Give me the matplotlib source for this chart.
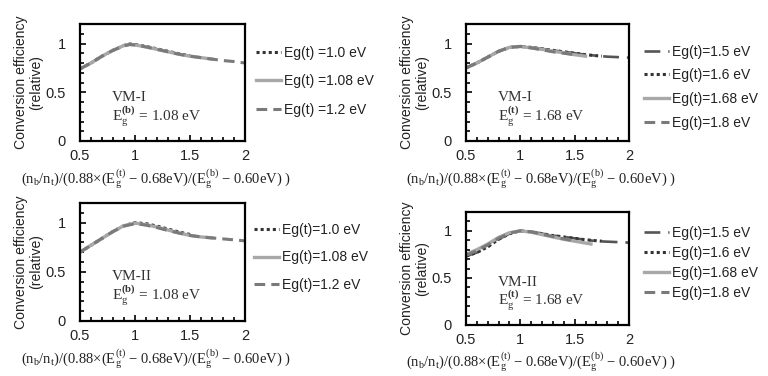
import matplotlib
matplotlib.use("Agg")
import matplotlib.pyplot as plt
from matplotlib.ticker import MultipleLocator

plt.rcParams['font.family'] = ['Liberation Sans', 'DejaVu Sans']
plt.rcParams['mathtext.fontset'] = 'custom'
plt.rcParams['mathtext.rm'] = 'Liberation Serif'
plt.rcParams['mathtext.it'] = 'Liberation Serif:italic'
plt.rcParams['mathtext.bf'] = 'Liberation Serif:bold'

# ---------------- data ----------------
x_ticks = [0.5, 1, 1.5, 2]
y_ticks = [0, 0.5, 1]

# Top-left: VM-I, Eg(b)=1.08 eV
tl_labels = ["Eg(t) =1.0 eV", "Eg(t) =1.08 eV", "Eg(t) =1.2 eV"]
tl_x1 = [0.5, 0.6, 0.7, 0.8, 0.9, 0.95, 1.0, 1.1, 1.2, 1.3, 1.4, 1.5]
tl_y1 = [0.74, 0.80, 0.87, 0.93, 0.98, 0.995, 0.99, 0.97, 0.945, 0.92, 0.895, 0.875]
tl_x2 = [0.5, 0.6, 0.7, 0.8, 0.9, 0.95, 1.0, 1.1, 1.2, 1.3, 1.4, 1.5, 1.6, 1.7]
tl_y2 = [0.74, 0.80, 0.87, 0.93, 0.98, 0.99, 0.985, 0.965, 0.94, 0.915, 0.89, 0.87, 0.855, 0.84]
tl_x3 = [0.5, 0.6, 0.7, 0.8, 0.9, 0.95, 1.0, 1.1, 1.2, 1.3, 1.4, 1.5, 1.6, 1.7, 1.8, 1.9, 2.0]
tl_y3 = [0.74, 0.80, 0.87, 0.93, 0.975, 0.99, 0.985, 0.965, 0.94, 0.915, 0.89, 0.87, 0.855, 0.84, 0.825, 0.815, 0.80]

# Top-right: VM-I, Eg(t)=1.68 eV
tr_labels = ["Eg(t)=1.5 eV", "Eg(t)=1.6 eV", "Eg(t)=1.68 eV", "Eg(t)=1.8 eV"]
tr_x1 = [0.5, 0.6, 0.7, 0.8, 0.9, 1.0, 1.1, 1.2, 1.3, 1.4, 1.5, 1.6, 1.7, 1.8, 1.9, 2.0]
tr_y1 = [0.75, 0.80, 0.86, 0.92, 0.96, 0.97, 0.96, 0.945, 0.93, 0.915, 0.90, 0.885, 0.875, 0.865, 0.86, 0.855]
tr_x2 = [0.5, 0.6, 0.7, 0.8, 0.9, 1.0, 1.1, 1.2, 1.3, 1.4, 1.5, 1.6, 1.7, 1.75]
tr_y2 = [0.75, 0.80, 0.86, 0.92, 0.96, 0.97, 0.96, 0.945, 0.93, 0.915, 0.90, 0.885, 0.875, 0.87]
tr_x3 = [0.5, 0.6, 0.7, 0.8, 0.9, 1.0, 1.1, 1.2, 1.3, 1.4, 1.5, 1.6]
tr_y3 = [0.75, 0.80, 0.86, 0.92, 0.96, 0.97, 0.955, 0.94, 0.92, 0.905, 0.885, 0.87]
tr_x4 = [0.5, 0.6, 0.7, 0.8, 0.9, 1.0, 1.1, 1.2, 1.3, 1.4, 1.5]
tr_y4 = [0.75, 0.80, 0.86, 0.92, 0.96, 0.97, 0.955, 0.935, 0.915, 0.90, 0.885]

# Bottom-left: VM-II, Eg(b)=1.08 eV
bl_labels = ["Eg(t)=1.0 eV", "Eg(t)=1.08 eV", "Eg(t)=1.2 eV"]
bl_x1 = [0.5, 0.6, 0.7, 0.8, 0.9, 1.0, 1.1, 1.2, 1.3, 1.4, 1.5]
bl_y1 = [0.70, 0.77, 0.84, 0.91, 0.97, 1.0, 0.99, 0.965, 0.935, 0.905, 0.88]
bl_x2 = [0.5, 0.6, 0.7, 0.8, 0.9, 1.0, 1.1, 1.2, 1.3, 1.4, 1.5, 1.6, 1.7]
bl_y2 = [0.70, 0.77, 0.84, 0.91, 0.97, 0.995, 0.98, 0.955, 0.925, 0.895, 0.87, 0.855, 0.845]
bl_x3 = [0.5, 0.6, 0.7, 0.8, 0.9, 1.0, 1.1, 1.2, 1.3, 1.4, 1.5, 1.6, 1.7, 1.8, 1.9, 2.0]
bl_y3 = [0.70, 0.77, 0.84, 0.91, 0.965, 0.99, 0.975, 0.95, 0.92, 0.895, 0.87, 0.855, 0.845, 0.835, 0.825, 0.815]

# Bottom-right: VM-II, Eg(t)=1.68 eV
br_labels = ["Eg(t)=1.5 eV", "Eg(t)=1.6 eV", "Eg(t)=1.68 eV", "Eg(t)=1.8 eV"]
br_x1 = [0.5, 0.6, 0.7, 0.8, 0.9, 1.0, 1.1, 1.2, 1.3, 1.4, 1.5, 1.6, 1.7, 1.8, 1.9, 2.0]
br_y1 = [0.73, 0.77, 0.83, 0.91, 0.97, 1.0, 0.99, 0.97, 0.95, 0.935, 0.92, 0.905, 0.89, 0.885, 0.88, 0.875]
br_x2 = [0.5, 0.6, 0.7, 0.8, 0.9, 1.0, 1.1, 1.2, 1.3, 1.4, 1.5, 1.6, 1.7, 1.75]
br_y2 = [0.73, 0.77, 0.83, 0.91, 0.97, 1.0, 0.99, 0.97, 0.95, 0.935, 0.92, 0.905, 0.895, 0.89]
br_x3 = [0.5, 0.6, 0.7, 0.8, 0.9, 1.0, 1.1, 1.2, 1.3, 1.4, 1.5, 1.6, 1.65]
br_y3 = [0.75, 0.80, 0.86, 0.93, 0.98, 1.0, 0.985, 0.96, 0.935, 0.91, 0.89, 0.87, 0.86]
br_x4 = [0.5, 0.6, 0.7, 0.8, 0.9, 1.0, 1.1, 1.2, 1.3, 1.4, 1.5]
br_y4 = [0.74, 0.79, 0.85, 0.92, 0.975, 1.0, 0.99, 0.965, 0.94, 0.915, 0.895]

# ---------------- style ----------------
W, H = 768, 376
fig = plt.figure(figsize=(W / 100, H / 100), dpi=100)

def px_axes(left, top, right, bottom):
    return fig.add_axes([left / W, 1 - bottom / H, (right - left) / W, (bottom - top) / H])

sty_dot = dict(color='#333333', linestyle=(0, (1, 1)), linewidth=2.2)
sty_sol = dict(color='#a8a8a8', linestyle='-', linewidth=2.4)
sty_dash = dict(color='#7a7a7a', linestyle=(0, (3.5, 2)), linewidth=2.2)
sty_dd = dict(color='#555555', linestyle=(0, (6, 3, 1.5, 3)), linewidth=1.9)

xlabel = (r'$\mathrm{(n_b/n_t)/(0.88{\times}(E_g^{(t)}\ {-}\ 0.68eV)/(E_g^{(b)}\ {-}\ 0.60eV)\ )}$')

def style_axes(ax):
    ax.set_xlim(0.5, 2)
    ax.set_ylim(0, 1.2)
    ax.set_xticks(x_ticks)
    ax.set_xticklabels(['0.5', '1', '1.5', '2'])
    ax.set_yticks(y_ticks)
    ax.set_yticklabels(['0', '0.5', '1'])
    ax.xaxis.set_minor_locator(MultipleLocator(0.1))
    ax.yaxis.set_minor_locator(MultipleLocator(0.1))
    ax.tick_params(which='both', direction='in', top=False, right=False, labelsize=10.5,
                   width=1.2, labelcolor='#222222')
    ax.tick_params(which='major', length=4, pad=6)
    ax.tick_params(which='minor', length=3)
    ax.tick_params(axis='y', pad=10)
    for s in ax.spines.values():
        s.set_linewidth(1.6)
        s.set_color('black')
    ax.set_ylabel('Conversion efficiency\n(relative)', fontsize=10.1, linespacing=1.12, color='#222222')
    ax.yaxis.set_label_coords(-0.225, 0.5)
    ax.set_xlabel(xlabel, fontsize=10.5, color='#222222')
    ax.xaxis.set_label_coords(0.46, -0.22)

def add_text(ax, name, sup, val):
    ax.text(0.79, 0.45, name, fontsize=11, family='Liberation Serif', color='#333333', va='center')
    ax.text(0.79, 0.26, r'$\mathrm{E_g^{\mathbf{(%s)}}}$ = %s' % (sup, val), fontsize=11,
            family='Liberation Serif', color='#333333', va='center')

def add_legend(ax, handles, labels, x_px, y_top_px, spacing):
    leg = ax.legend(handles, labels, loc='upper left', bbox_to_anchor=(x_px / W, 1 - y_top_px / H),
                    bbox_transform=fig.transFigure, frameon=False, fontsize=10,
                    handlelength=1.8, handletextpad=0.25, labelspacing=spacing, borderaxespad=0)
    for t in leg.get_texts():
        t.set_color('#222222')
    return leg

# Top-left
ax = px_axes(80, 24, 245, 141)
h1, = ax.plot(tl_x1, tl_y1, **sty_dot)
h2, = ax.plot(tl_x2, tl_y2, **sty_sol)
h3, = ax.plot(tl_x3, tl_y3, **sty_dash)
style_axes(ax)
add_text(ax, 'VM-I', 'b', '1.08 eV')
add_legend(ax, [h1, h2, h3], tl_labels, 250, 40, 1.05)

# Top-right
ax = px_axes(466, 24, 629, 141)
h1, = ax.plot(tr_x1, tr_y1, **sty_dd)
h2, = ax.plot(tr_x2, tr_y2, **sty_dot)
h3, = ax.plot(tr_x3, tr_y3, **sty_sol)
h4, = ax.plot(tr_x4, tr_y4, **sty_dash)
style_axes(ax)
add_text(ax, 'VM-I', 't', '1.68 eV')
add_legend(ax, [h1, h2, h3, h4], tr_labels, 638, 39, 0.7)

# Bottom-left
ax = px_axes(80, 203, 245, 321)
h1, = ax.plot(bl_x1, bl_y1, **sty_dot)
h2, = ax.plot(bl_x2, bl_y2, **sty_sol)
h3, = ax.plot(bl_x3, bl_y3, **sty_dash)
style_axes(ax)
add_text(ax, 'VM-II', 'b', '1.08 eV')
add_legend(ax, [h1, h2, h3], bl_labels, 248, 217, 1.0)

# Bottom-right
ax = px_axes(466, 212, 629, 325)
h1, = ax.plot(br_x1, br_y1, **sty_dd)
h2, = ax.plot(br_x2, br_y2, **sty_dot)
h3, = ax.plot(br_x3, br_y3, **sty_sol)
h4, = ax.plot(br_x4, br_y4, **sty_dash)
style_axes(ax)
add_text(ax, 'VM-II', 't', '1.68 eV')
add_legend(ax, [h1, h2, h3, h4], br_labels, 638, 220, 0.45)

fig.savefig('out.png', dpi=100, facecolor='white')
